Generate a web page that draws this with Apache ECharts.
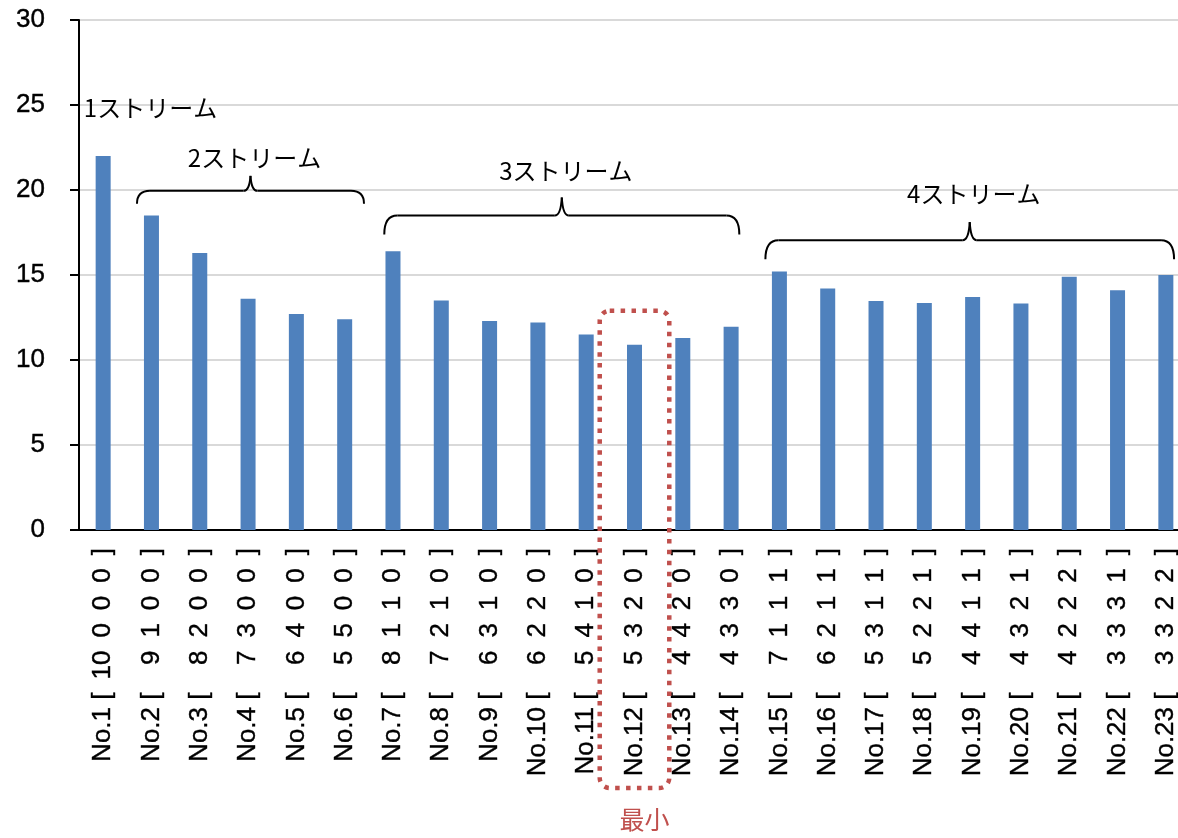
<!DOCTYPE html>
<html>
<head>
<meta charset="utf-8">
<script src="https://cdn.jsdelivr.net/npm/echarts@6/dist/echarts.min.js"></script>
<style>
  html, body { margin: 0; padding: 0; background: #fff; }
  #chart { width: 1178px; height: 838px; }
</style>
</head>
<body>
<div id="chart"></div>
<script>
// Case names and stream splits shown under each bar
const caseNames = ['No.1', 'No.2', 'No.3', 'No.4', 'No.5', 'No.6', 'No.7', 'No.8', 'No.9', 'No.10',
  'No.11', 'No.12', 'No.13', 'No.14', 'No.15', 'No.16', 'No.17', 'No.18', 'No.19', 'No.20',
  'No.21', 'No.22', 'No.23'];
const streamSplits = [
  [10, 0, 0, 0], [9, 1, 0, 0], [8, 2, 0, 0], [7, 3, 0, 0], [6, 4, 0, 0], [5, 5, 0, 0],
  [8, 1, 1, 0], [7, 2, 1, 0], [6, 3, 1, 0], [6, 2, 2, 0], [5, 4, 1, 0], [5, 3, 2, 0],
  [4, 4, 2, 0], [4, 3, 3, 0],
  [7, 1, 1, 1], [6, 2, 1, 1], [5, 3, 1, 1], [5, 2, 2, 1], [4, 4, 1, 1], [4, 3, 2, 1],
  [4, 2, 2, 2], [3, 3, 3, 1], [3, 3, 2, 2]
];
// Bar values
const values = [22.0, 18.5, 16.3, 13.6, 12.7, 12.4, 16.4, 13.5, 12.3, 12.2, 11.5, 10.9,
  11.3, 11.95, 15.2, 14.2, 13.47, 13.35, 13.7, 13.33, 14.9, 14.1, 15.0];
// Value axis ticks
const yTicks = [0, 5, 10, 15, 20, 25, 30];
// Stream groups (first/last case index of each group)
const groupNames = ['1ストリーム', '2ストリーム', '3ストリーム', '4ストリーム'];
const groupFirst = [0, 1, 6, 14];
const groupLast = [0, 5, 13, 22];
const minimumText = '最小';

// Placement of the group braces and their captions (category units / value units)
const braceLayout = [
  { textAt: -0.4, textLevel: 24.85, align: 'left' },
  { from: -0.3, to: 0.4, level: 19.95, tip: 13, notch: 15, textLevel: 21.9 },
  { from: -0.18, to: 0.17, level: 18.5, tip: 19, notch: 18, textLevel: 21.15 },
  { from: -0.29, to: 0.17, level: 17.05, tip: 19, notch: 18, textLevel: 19.8 }
];

const EN = '\u2002', FIG = '\u2007';
function categoryLabel(i) {
  const s = streamSplits[i];
  const parts = s.map((v, k) => (k === 0 && v < 10 ? FIG + v : String(v)));
  return caseNames[i] + ' [' + EN + parts.join(EN) + EN + ']';
}

const chart = echarts.init(document.getElementById('chart'), null, { renderer: 'canvas' });

const labelFont = {
  color: '#000', fontSize: 26, fontFamily: 'Liberation Sans, Arial, sans-serif',
  textBorderColor: '#000', textBorderWidth: 0.4
};

chart.setOption({
  animation: false,
  backgroundColor: '#fff',
  grid: {
    left: 79, top: 20, width: 1111, height: 510,
    outerBoundsMode: 'none',
    containLabel: false,
    show: true, borderColor: '#000', borderWidth: 2, backgroundColor: 'transparent'
  },
  xAxis: {
    type: 'category',
    data: caseNames,
    axisLine: { lineStyle: { color: '#000', width: 2 } },
    axisTick: { show: false },
    axisLabel: Object.assign({
      interval: 0, rotate: 90, margin: 18,
      formatter: (v, i) => categoryLabel(i)
    }, labelFont),
    splitLine: { show: false }
  },
  yAxis: {
    type: 'value',
    min: yTicks[0], max: yTicks[yTicks.length - 1], interval: yTicks[1] - yTicks[0],
    axisLine: { show: true, lineStyle: { color: '#000', width: 2 } },
    axisTick: { show: true, inside: false, length: 9, lineStyle: { color: '#000', width: 2 } },
    axisLabel: Object.assign({ margin: 34 }, labelFont),
    splitLine: { show: true, lineStyle: { color: '#d9d9d9', width: 2 } }
  },
  series: [{
    type: 'bar',
    data: values,
    barWidth: 15,
    itemStyle: { color: '#4f81bd' }
  }]
});

// Annotations: group braces, captions and the minimum marker
function drawAnnotations() {
  const cx = i => chart.convertToPixel({ xAxisIndex: 0 }, i);
  const vy = v => chart.convertToPixel({ yAxisIndex: 0 }, v);
  const band = cx(1) - cx(0);
  const fx = f => cx(0) + f * band;
  const els = [];
  const lineStyle = { stroke: '#000', lineWidth: 2, fill: null };
  const jpFont = '24px "Noto Sans CJK JP", sans-serif';

  groupNames.forEach((name, g) => {
    const L = braceLayout[g];
    if (g === 0) {
      els.push({
        type: 'text', x: fx(groupFirst[g] + L.textAt), y: vy(L.textLevel), z: 10,
        style: { text: name, font: jpFont, fill: '#000', align: 'left', verticalAlign: 'middle' }
      });
      return;
    }
    const x0 = fx(groupFirst[g] + L.from);
    const x1 = fx(groupLast[g] + L.to);
    const y = vy(L.level);
    const xm = (x0 + x1) / 2;
    const r = 13, r2 = 7;
    els.push(
      { type: 'bezierCurve', z: 10, shape: { x1: x0, y1: y + L.tip, cpx1: x0, cpy1: y, x2: x0 + r, y2: y }, style: lineStyle },
      { type: 'line', z: 10, shape: { x1: x0 + r, y1: y, x2: xm - r2, y2: y }, style: lineStyle },
      { type: 'bezierCurve', z: 10, shape: { x1: xm - r2, y1: y, cpx1: xm - 1, cpy1: y, x2: xm, y2: y - L.notch }, style: lineStyle },
      { type: 'bezierCurve', z: 10, shape: { x1: xm + r2, y1: y, cpx1: xm + 1, cpy1: y, x2: xm, y2: y - L.notch }, style: lineStyle },
      { type: 'line', z: 10, shape: { x1: xm + r2, y1: y, x2: x1 - r, y2: y }, style: lineStyle },
      { type: 'bezierCurve', z: 10, shape: { x1: x1, y1: y + L.tip, cpx1: x1, cpy1: y, x2: x1 - r, y2: y }, style: lineStyle },
      {
        type: 'text', x: xm + 4, y: vy(L.textLevel), z: 10,
        style: { text: name, font: jpFont, fill: '#000', align: 'center', verticalAlign: 'middle' }
      }
    );
  });

  // Dotted frame around the smallest value and its caption
  let m = 0;
  values.forEach((v, i) => { if (v < values[m]) m = i; });
  const left = fx(m - 0.72), right = fx(m + 0.72);
  const top = vy(values[m] + 2.0);
  const bottom = vy(0) + 258;
  els.push({
    type: 'rect', z: 20,
    shape: { x: left, y: top, width: right - left, height: bottom - top, r: 10 },
    style: { fill: null, stroke: '#c0504d', lineWidth: 4.5, lineDash: [4.5, 6.4], lineCap: 'butt' }
  });
  els.push({
    type: 'text', z: 20, x: (left + right) / 2 + 10, y: bottom + 31,
    style: { text: minimumText, font: '25px "Noto Sans CJK JP", sans-serif', fill: '#c0504d', align: 'center', verticalAlign: 'middle' }
  });

  chart.setOption({ graphic: { elements: els } });
}
drawAnnotations();
</script>
</body>
</html>
